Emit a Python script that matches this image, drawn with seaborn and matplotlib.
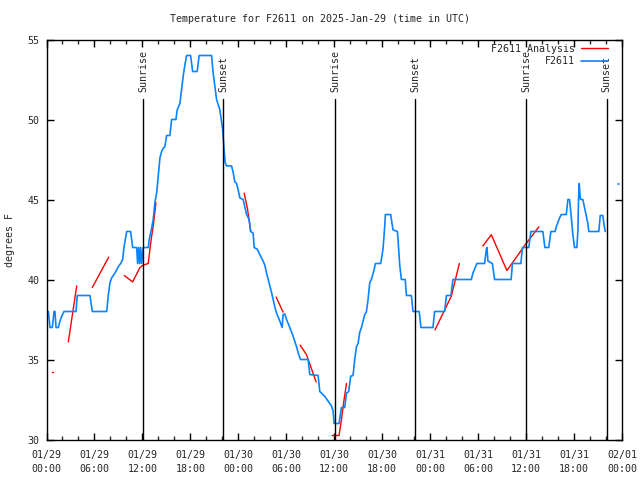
import numpy as np
import pandas as pd
import matplotlib
matplotlib.use('Agg')
from matplotlib import pyplot as plt
import matplotlib.dates as mdates
from matplotlib.lines import Line2D
import seaborn as sns

START = pd.Timestamp('2025-01-29 00:00')
nan = np.nan

# station observations (hours since start, deg F); nan = gap
obs_hours = [
    0.23, 0.44, 0.73, 0.94, 1.06, 1.19, 1.48, 1.69, 1.9, 2.19, 3.69, 3.85, 5.44, 5.73,
    7.53, 7.73, 7.94, 8.15, 8.56, 8.98, 9.28, 9.53, 9.69, 10.03, 10.53, 10.78, 11.28,
    11.4, 11.53, 11.65, 11.78, 11.9, 12.1, 12.73, 12.85, 13.15, 13.35, 13.56, 13.78,
    13.98, 14.19, 14.4, 14.6, 14.81, 15.03, 15.44, 15.65, 16.19, 16.35, 16.69, 16.9,
    17.1, 17.31, 17.53, 18.03, 18.28, 18.85, 19.1, 20.65, 20.85, 20.98, 21.15, 21.28,
    21.69, 22.03, 22.19, 22.35, 22.53, 23.15, 23.35, 23.56, 23.78, 23.98, 24.19, 24.6,
    25.03, 25.35, 25.53, 25.85, 25.98, 26.35, 26.69, 27.1, 27.31, 27.53, 27.94, 28.15,
    28.35, 28.56, 28.78, 29.19, 29.48, 29.6, 29.81, 30.03, 30.44, 30.85, 31.28, 31.56,
    31.78, 32.73, 32.94, 33.98, 34.19, 34.4, 34.81, 35.23, 35.65, 35.85, 35.98, 36.6,
    36.9, 37.31, 37.53, 37.81, 38.06, 38.35, 38.56, 38.78, 38.98, 39.19, 39.4, 39.81,
    40.03, 40.23, 40.44, 40.65, 40.98, 41.15, 41.81, 42.1, 42.31, 42.4, 43.06, 43.35,
    43.9, 43.98, 44.19, 44.4, 44.88, 45.03, 45.65, 45.85, 46.63, 46.85, 48.35, 48.56,
    49.81, 50.03, 50.6, 50.85, 53.15, 53.35, 53.85, 54.81, 55.03, 55.1, 55.23, 55.78,
    56.06, 58.13, 58.29, 59.35, 59.54, 60.34, 60.6, 62.1, 62.35, 62.84, 63.1, 63.63,
    63.78, 64.19, 64.4, 65.03, 65.23, 65.44, 65.56, 65.73, 65.85, 66.06, 66.35, 66.48,
    66.56, 66.65, 66.73, 66.81, 67.1, 67.31, 67.53, 67.73, 67.85, 69.1, 69.28, 69.6,
    69.73, 69.9, nan, 71.52, 71.64,
]
obs_temps = [
    38, 37, 37, 38, 38, 37, 37, 37.4, 37.7, 38, 38, 39, 39, 38,
    38, 39, 39.8, 40.1, 40.4, 40.8, 41, 41.25, 42, 43, 43, 42, 42,
    41, 42, 41, 42, 41, 42, 42, 42.5, 43.2, 43.75, 44.8, 45.4,
    46.5, 47.6, 48, 48.2, 48.3, 49, 49, 50, 50, 50.6, 51, 51.9,
    52.7, 53.4, 54, 54, 53, 53, 54, 54, 52.9, 52.4, 51.8, 51.25,
    50.6, 49.4, 48.3, 47.3, 47.1, 47.1, 46.7, 46.1, 46, 45.6, 45.1, 45,
    44.06, 43.75, 43, 42.9, 42, 41.9, 41.56, 41.15, 40.9, 40.4, 39.6, 39.2,
    38.75, 38.3, 37.9, 37.4, 37, 37.8, 37.85, 37.5, 37, 36.46, 35.8, 35.3,
    35, 35, 34.06, 34, 33, 32.9, 32.7, 32.4, 32.1, 31.8, 31, 31,
    32, 32, 32.9, 33, 33.96, 34, 35, 35.8, 36, 36.7, 37, 37.8,
    38, 38.75, 39.8, 40, 40.6, 41, 41, 41.9, 43.3, 44.06, 44.06, 43.1,
    43, 42.5, 40.9, 40, 40, 39, 39, 38, 38, 37, 37, 38,
    38, 39, 39, 40, 40, 40.4, 41, 41, 41.9, 42, 41.15, 41,
    40, 40, 41, 41, 42, 42, 43, 43, 42, 42, 43, 43,
    43.3, 43.85, 44.06, 44.06, 45, 45, 44.4, 43.5, 42.8, 42, 42, 43,
    45, 46, 45.4, 45, 45, 44.5, 44, 43.5, 43, 43, 44, 44,
    43.5, 43, nan, 46, 46,
]

# analysis segments (hours since start, deg F); nan = gap
analysis_hours = [
    0.70, 0.77, nan,
    2.73, 3.78, nan,
    5.73, 7.78, nan,
    9.73, 10.78, 11.69, 12.1, 12.73, 12.94, 13.15, 13.35, 13.56, 13.69, nan,
    24.73, 25.15, 25.56, nan,
    28.73, 29.6, nan,
    31.73, 32.53, 33.73, nan,
    35.73, 36.6, 36.9, 37.23, 37.53, nan,
    48.6, 50.65, 51.65, nan,
    54.6, 55.65, 57.6, 60.03, 61.6,
]
analysis_temps = [
    34.23, 34.23, nan,
    36.1, 39.6, nan,
    39.5, 41.4, nan,
    40.25, 39.85, 40.75, 40.9, 41.0, 41.9, 42.7, 43.3, 44.2, 44.8, nan,
    45.4, 44.4, 43.0, nan,
    38.9, 37.96, nan,
    35.9, 35.3, 33.6, nan,
    30.25, 30.25, 31.25, 32.5, 33.5, nan,
    36.85, 38.96, 41.0, nan,
    42.1, 42.8, 40.56, 42.27, 43.29,
]

sun_hours = [12.1, 22.07, 36.1, 46.1, 60.0, 70.1]
sun_labels = ['Sunrise', 'Sunset', 'Sunrise', 'Sunset', 'Sunrise', 'Sunset']

y_ticks = [30, 35, 40, 45, 50, 55]

BLUE = '#0a84ff'
RED = '#ff0000'


def to_frame(hours, temps):
    df = pd.DataFrame({'hours': hours, 'temp': temps})
    df['segment'] = df['temp'].isna().cumsum()
    df = df.dropna().copy()
    df['time'] = START + pd.to_timedelta(df['hours'], unit='h')
    return df


obs = to_frame(obs_hours, obs_temps)
analysis = to_frame(analysis_hours, analysis_temps)

sns.set_style('ticks')
plt.rcParams['font.family'] = ['DejaVu Sans Mono']
plt.rcParams['font.size'] = 7.2

fig = plt.figure(figsize=(6.4, 4.8), dpi=100)
ax = fig.add_axes([46.5 / 640, 1 - 439.5 / 480, 575.5 / 640, 400 / 480])

sns.lineplot(data=analysis, x='time', y='temp', units='segment', estimator=None,
             sort=False, color=RED, linewidth=1.0, ax=ax, legend=False)
sns.lineplot(data=obs, x='time', y='temp', units='segment', estimator=None,
             sort=False, color=BLUE, linewidth=1.2, ax=ax, legend=False)

# sunrise / sunset markers
trans = ax.get_xaxis_transform()
for h, lab in zip(sun_hours, sun_labels):
    t = START + pd.Timedelta(hours=h)
    ax.axvline(t, ymin=0, ymax=0.851, color='black', linewidth=1.0)
    ax.text(t, 0.869, lab, rotation=90, ha='center', va='bottom',
            transform=trans, fontsize=7.2)

ax.set_xlim(START, START + pd.Timedelta(hours=72))
ax.set_ylim(30, 55)
ax.set_yticks(y_ticks)
ax.xaxis.set_major_locator(mdates.HourLocator(byhour=[0, 6, 12, 18]))
ax.xaxis.set_minor_locator(mdates.HourLocator(byhour=range(0, 24, 2)))
ax.xaxis.set_major_formatter(mdates.DateFormatter('%m/%d\n%H:%M'))
ax.tick_params(axis='both', which='major', direction='in', length=5, width=1,
               top=True, right=True, labelsize=7.2, color='black')
ax.tick_params(axis='x', which='major', pad=7.5)
ax.tick_params(axis='y', which='major', pad=5)
ax.tick_params(axis='x', which='minor', direction='in', length=3, width=1,
               top=True, bottom=True)
for s in ax.spines.values():
    s.set_linewidth(1.0)
    s.set_color('black')
ax.set_xlabel('')
ax.set_ylabel('')

handles = [Line2D([], [], color=RED, linewidth=1.0),
           Line2D([], [], color=BLUE, linewidth=1.2)]
ax.legend(handles, ['F2611 Analysis', 'F2611'], loc='upper right',
          bbox_to_anchor=(0.975, 0.989), frameon=False, markerfirst=False,
          handlelength=2.7, handletextpad=0.6, labelspacing=0.25,
          borderpad=0, borderaxespad=0, fontsize=7.2)

fig.suptitle('Temperature for F2611 on 2025-Jan-29 (time in UTC)',
             y=1 - 19 / 480, va='center', fontsize=7.2)
fig.text(10 / 640, 0.5, 'degrees F', rotation=90, ha='center', va='center',
         fontsize=7.2)

fig.canvas.draw()
for lab in ax.get_xticklabels():
    lab.set_linespacing(1.55)

plt.savefig('out.png', dpi=100)
